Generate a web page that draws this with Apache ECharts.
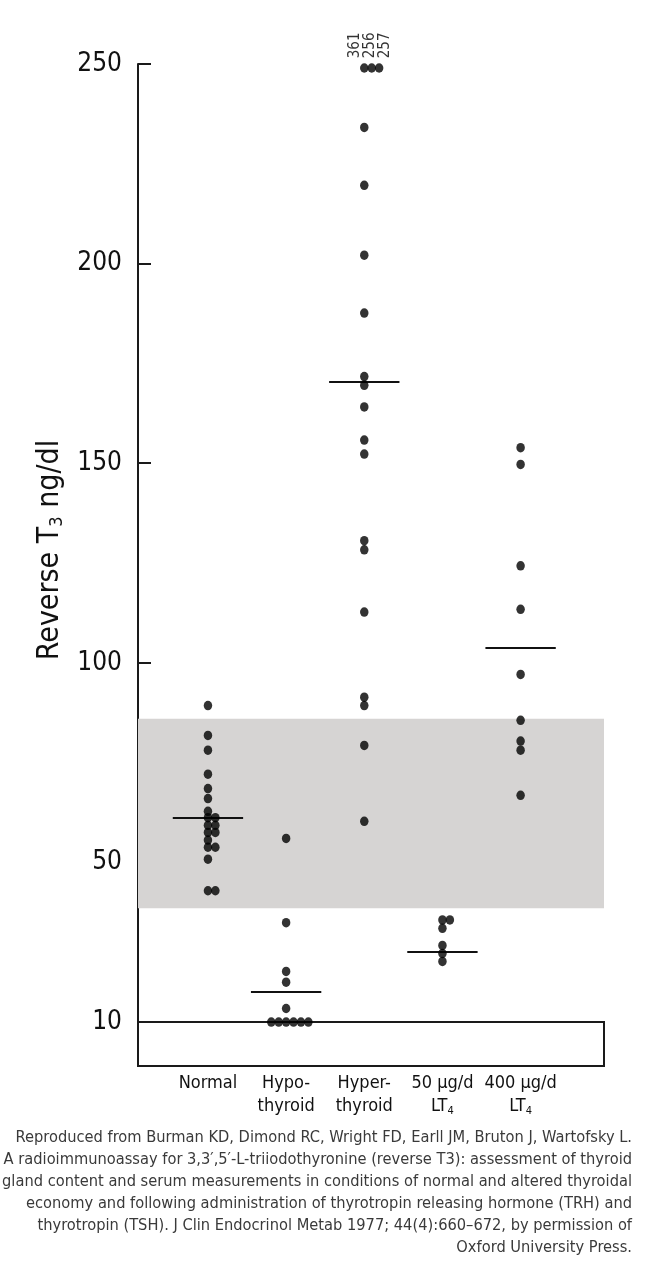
<!DOCTYPE html>
<html>
<head>
<meta charset="utf-8">
<script src="https://cdn.jsdelivr.net/npm/echarts@6/dist/echarts.min.js"></script>
<style>
html,body{margin:0;padding:0;background:#fff;}
#c{width:645px;height:1280px;}
</style>
</head>
<body>
<div id="c"></div>
<script>
// ---- data ----
const categories = [
  ['Normal'],
  ['Hypo-', 'thyroid'],
  ['Hyper-', 'thyroid'],
  ['50 µg/d', 'LT|4'],
  ['400 µg/d', 'LT|4']
];
const normal = [89.3, 81.8, 78.1, 72.1, 68.5, 66.0, 62.8, 61.2, 61.2, 59.3, 59.3, 57.5, 57.5, 55.6, 53.8, 53.8, 50.8, 42.9, 42.9];
const hypo = [56.0, 34.9, 22.7, 20.0, 13.4, 10, 10, 10, 10, 10, 10];
const hyper = [361, 256, 257, 234.1, 219.6, 202.1, 187.6, 171.7, 169.5, 164.1, 155.8, 152.3, 130.6, 128.3, 112.7, 91.4, 89.3, 79.3, 60.3];
const lt4_50 = [35.6, 35.6, 33.5, 29.2, 27.2, 25.2];
const lt4_400 = [153.9, 149.7, 124.3, 113.4, 97.1, 85.6, 80.4, 78.1, 66.8];
const medians = [61.2, 17.7, 170.3, 27.7, 103.7];
const normalRange = [38.5, 86];
const detectionLimit = 10;
const yTickLabels = [10, 50, 100, 150, 200, 250];
const yTicks = [50, 100, 150, 200, 250];
const offScaleCap = 249;
const yAxisTitle = ['Reverse T', '3', ' ng/dl'];
const footnote = [
  'Reproduced from Burman KD, Dimond RC, Wright FD, Earll JM, Bruton J, Wartofsky L.',
  'A radioimmunoassay for 3,3′,5′-L-triiodothyronine (reverse T3): assessment of thyroid',
  'gland content and serum measurements in conditions of normal and altered thyroidal',
  'economy and following administration of thyrotropin releasing hormone (TRH) and',
  'thyrotropin (TSH). J Clin Endocrinol Metab 1977; 44(4):660–672, by permission of',
  'Oxford University Press.'
];

// ---- build ----
const groups = [normal, hypo, hyper, lt4_50, lt4_400];
const FONT = '"Liberation Sans Narrow", "DejaVu Sans Condensed", "Open Sans", sans-serif';
const yMin = -1, yMax = 250;
const xMin = 0.105, xMax = 6.067;
const step = 0.095;   // side-by-side spacing for equal values
const halfW = 0.45;   // median bar half width

const points = [];
groups.forEach((vals, gi) => {
  const disp = vals.map(v => Math.min(v, offScaleCap));
  const counts = {}, seen = {};
  disp.forEach(v => { counts[v] = (counts[v] || 0) + 1; });
  disp.forEach((v, i) => {
    const n = counts[v];
    const k = seen[v] || 0; seen[v] = k + 1;
    const start = -Math.max(0, Math.floor((n - 2) / 2));
    const slot = start + k;
    const item = { value: [gi + 1 + slot * step, v] };
    if (vals[i] > offScaleCap) {
      item.label = {
        show: true, formatter: String(vals[i]), position: 'top', rotate: 90,
        align: 'left', verticalAlign: 'middle', distance: 5,
        offset: [0, (slot - 1) * 7.5 - 1.5],
        fontSize: 15, color: '#000', fontFamily: FONT
      };
    }
    points.push(item);
  });
});

const medianLines = medians.map((m, gi) => [
  { coord: [gi + 1 - halfW, m] },
  { coord: [gi + 1 + halfW, m] }
]);

const rich = {
  a: { fontSize: 18, lineHeight: 23, fontFamily: FONT, color: '#111' },
  s: { fontSize: 11, lineHeight: 23, padding: [9, 0, 0, 0], fontFamily: FONT, color: '#111' }
};

const option = {
  animation: false,
  backgroundColor: '#fff',
  grid: { left: 138, right: 41, top: 64, bottom: 214, containLabel: false },
  xAxis: {
    type: 'value', min: xMin, max: xMax,
    axisLine: { show: true, onZero: false, lineStyle: { color: '#1a1a1a', width: 2 } },
    axisTick: { show: false },
    splitLine: { show: false },
    axisLabel: {
      customValues: [1, 2, 3, 4, 5],
      margin: 6,
      formatter: function (v) {
        const c = categories[Math.round(v) - 1];
        if (!c) return '';
        return c.map(line => {
          const p = line.split('|');
          return '{a|' + p[0] + '}' + (p[1] ? '{s|' + p[1] + '}' : '');
        }).join('\n');
      },
      rich: rich
    }
  },
  yAxis: {
    type: 'value', min: yMin, max: yMax,
    name: '{a|' + yAxisTitle[0] + '}{s|' + yAxisTitle[1] + '}{a|' + yAxisTitle[2] + '}',
    nameLocation: 'middle', nameRotate: 90, nameGap: 64,
    nameTextStyle: {
      padding: [0, 0, 0, 30],
      rich: {
        a: { fontSize: 30, fontFamily: FONT, color: '#111', lineHeight: 36 },
        s: { fontSize: 18, fontFamily: FONT, color: '#111', lineHeight: 36, padding: [14, 0, 0, 0] }
      }
    },
    axisLine: { show: true, onZero: false, lineStyle: { color: '#1a1a1a', width: 2 } },
    axisTick: { show: true, inside: true, length: 13, customValues: yTicks, lineStyle: { color: '#1a1a1a', width: 2 } },
    splitLine: { show: false },
    axisLabel: { customValues: yTickLabels, fontSize: 26, fontFamily: FONT, color: '#111', margin: 16 }
  },
  series: [
    {
      type: 'scatter', data: [], z: 1, silent: true,
      markArea: {
        silent: true,
        itemStyle: { color: '#d6d4d3' },
        data: [[{ yAxis: normalRange[0] }, { yAxis: normalRange[1] }]]
      }
    },
    {
      type: 'scatter', data: [], z: 2, silent: true,
      markArea: {
        silent: true,
        itemStyle: { color: 'rgba(255,255,255,0)', borderColor: '#1a1a1a', borderWidth: 2 },
        data: [[{ yAxis: yMin }, { yAxis: detectionLimit }]]
      }
    },
    {
      type: 'scatter', z: 5, silent: true,
      symbol: 'circle', symbolSize: [8.5, 9.5],
      itemStyle: { color: '#000' },
      data: points,
      markLine: {
        silent: true, symbol: ['none', 'none'],
        label: { show: false },
        lineStyle: { color: '#111', width: 2, type: 'solid' },
        data: medianLines
      }
    }
  ],
  graphic: [{
    type: 'text', x: 632, y: 1127,
    style: {
      text: footnote.join('\n'), align: 'right', verticalAlign: 'top',
      fontSize: 16.3, lineHeight: 22, fontFamily: FONT, fill: '#3a3a3a'
    }
  }]
};

const chart = echarts.init(document.getElementById('c'), null, { renderer: 'canvas' });
chart.setOption(option);
</script>
</body>
</html>
